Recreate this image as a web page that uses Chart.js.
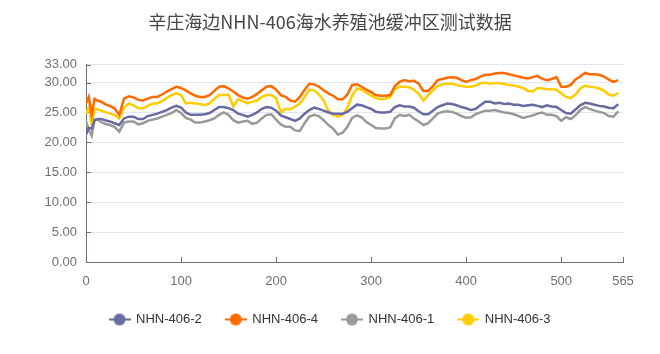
<!DOCTYPE html>
<html>
<head>
<meta charset="utf-8">
<script src="https://cdn.jsdelivr.net/npm/chart.js@4"></script>
<style>
  html, body { margin: 0; padding: 0; background: #fff; }
</style>
</head>
<body>
<canvas id="myChart" width="660" height="354"></canvas>
<script>
// sample positions (x axis index)
var xValues = [0, 3, 6, 9, 12, 16, 20,
  25, 30, 35, 40, 45, 50, 55, 60, 65, 70, 75, 80, 85, 90, 95, 100, 105, 110, 115, 120, 125, 130, 135, 140,
  145, 150, 155, 160, 165, 170, 175, 180, 185, 190, 195, 200, 205, 210, 215, 220, 225, 230, 235, 240, 245, 250, 255, 260, 265, 270, 275, 280,
  285, 290, 295, 300, 305, 310, 315, 320, 325, 330, 335, 340, 345, 350, 355, 360, 365, 370, 375, 380, 385, 390, 395, 400, 405, 410, 415, 420,
  425, 430, 435, 440, 445, 450, 455, 460, 465, 470, 475, 480, 485, 490, 495, 500, 505, 510, 515, 520, 525, 530, 535, 540, 545, 550, 555, 560];

var nhn2 = [21.3, 22.4, 22.3, 23.7, 23.9, 23.9, 23.7,
  23.5, 23.2, 22.9, 24.0, 24.3, 24.3, 23.9, 23.9, 24.4, 24.6, 24.8, 25.1, 25.4, 25.8, 26.1, 25.8, 25.0, 24.6, 24.6, 24.6, 24.7, 24.9, 25.4, 25.9,
  25.9, 25.7, 25.4, 24.8, 24.6, 24.3, 24.6, 25.0, 25.6, 25.9, 25.8, 25.3, 24.5, 24.2, 23.9, 23.6, 24.0, 24.8, 25.4, 25.8, 25.6, 25.3, 25.0, 24.8, 24.8, 24.8, 25.1, 25.7,
  26.3, 26.2, 25.9, 25.6, 25.1, 25.0, 25.0, 25.1, 25.9, 26.2, 26.0, 26.0, 25.8, 25.2, 24.7, 24.7, 25.3, 25.9, 26.2, 26.5, 26.4, 26.2, 25.9, 25.7, 25.4, 25.6, 26.2, 26.8,
  26.8, 26.5, 26.6, 26.4, 26.5, 26.3, 26.3, 26.1, 26.2, 26.3, 26.1, 25.9, 26.2, 26.0, 25.9, 25.4, 24.9, 24.8, 25.5, 26.2, 26.6, 26.5, 26.3, 26.1, 26.0, 25.8, 25.7, 26.4];

var nhn4 = [26.5, 27.6, 24.6, 27.3, 27.0, 26.8, 26.4,
  26.1, 25.7, 24.6, 27.3, 27.7, 27.5, 27.1, 27.0, 27.3, 27.6, 27.6, 28.0, 28.5, 28.9, 29.3, 29.1, 28.7, 28.2, 27.8, 27.6, 27.6, 27.9, 28.6, 29.3,
  29.4, 29.0, 28.5, 27.9, 27.5, 27.3, 27.6, 28.1, 28.7, 29.3, 29.4, 28.8, 27.9, 27.6, 27.0, 26.8, 27.6, 28.8, 29.8, 29.7, 29.3, 28.7, 28.2, 27.8, 27.2, 27.2, 28.0, 29.6,
  29.7, 29.3, 28.8, 28.4, 27.9, 27.8, 27.8, 27.9, 29.4, 30.1, 30.4, 30.2, 30.3, 29.8, 28.6, 28.6, 29.4, 30.4, 30.6, 30.8, 30.9, 30.8, 30.4, 30.1, 30.4, 30.6, 31.0, 31.3,
  31.3, 31.5, 31.6, 31.6, 31.4, 31.2, 31.0, 30.8, 30.7, 30.9, 31.1, 30.6, 30.4, 30.6, 30.9, 29.3, 29.3, 29.6, 30.5, 31.0, 31.6, 31.4, 31.4, 31.3, 31.0, 30.5, 30.1, 30.4];

var nhn1 = [23.5, 22.1, 21.1, 23.8, 23.8, 23.4, 23.1,
  22.9, 22.6, 21.8, 23.3, 23.5, 23.5, 23.0, 23.2, 23.6, 23.8, 24.0, 24.3, 24.6, 24.9, 25.4, 24.9, 24.1, 23.8, 23.3, 23.3, 23.5, 23.7, 24.0, 24.6,
  25.0, 24.6, 23.7, 23.3, 23.5, 23.6, 23.1, 23.3, 24.0, 24.6, 24.7, 23.8, 23.0, 22.6, 22.6, 22.0, 21.9, 23.2, 24.3, 24.6, 24.4, 23.7, 22.9, 22.3, 21.3, 21.6, 22.6, 24.1,
  24.5, 24.2, 23.4, 22.9, 22.4, 22.3, 22.3, 22.5, 24.0, 24.6, 24.4, 24.6, 24.0, 23.5, 22.9, 23.2, 24.0, 24.8, 25.1, 25.2, 25.1, 24.8, 24.4, 24.1, 24.2, 24.7, 25.0, 25.3,
  25.3, 25.4, 25.2, 25.0, 24.9, 24.7, 24.4, 24.1, 24.3, 24.5, 24.8, 25.0, 24.6, 24.6, 24.4, 23.6, 24.2, 23.9, 24.5, 25.4, 25.9, 25.6, 25.3, 25.1, 24.9, 24.4, 24.3, 25.2];

var nhn3 = [24.8, 25.9, 23.0, 25.6, 25.5, 25.3, 25.1,
  24.8, 24.6, 24.0, 25.8, 26.5, 26.2, 25.7, 25.7, 26.1, 26.5, 26.5, 26.9, 27.4, 27.9, 28.2, 27.9, 26.5, 26.6, 26.5, 26.4, 26.2, 26.5, 27.3, 27.9,
  27.9, 28.0, 26.0, 27.2, 26.9, 26.5, 26.8, 27.0, 27.6, 27.9, 27.9, 27.4, 25.0, 25.6, 25.5, 26.0, 26.5, 27.6, 28.8, 28.7, 28.0, 27.0, 25.3, 24.6, 24.3, 24.6, 25.8, 27.8,
  29.0, 28.8, 28.3, 27.8, 27.4, 27.2, 27.3, 27.6, 28.9, 29.3, 29.3, 29.2, 28.8, 28.1, 27.0, 27.9, 28.7, 29.4, 29.7, 29.8, 29.8, 29.6, 29.4, 29.3, 29.3, 29.5, 29.9, 30.0,
  29.8, 29.9, 29.9, 29.8, 29.6, 29.5, 29.3, 29.1, 28.6, 28.5, 29.1, 29.0, 28.9, 28.9, 28.8, 28.2, 27.6, 27.4, 28.0, 29.0, 29.5, 29.3, 29.2, 29.0, 28.6, 28.0, 27.8, 28.3];

var seriesNames = ['NHN-406-2', 'NHN-406-4', 'NHN-406-1', 'NHN-406-3'];
var seriesValues = [nhn2, nhn4, nhn1, nhn3];
var seriesColors = ['#6a6aa2', '#ff6a00', '#999999', '#ffcc00'];

var yTicks = [0, 5, 10, 15, 20, 25, 30, 33];
var xTicks = [0, 100, 200, 300, 400, 500, 565];

var axisColor = '#6e7079';

// legend icon: short line with a dot, like the original
function legendIcon(color) {
  var c = document.createElement('canvas');
  c.width = 22;
  c.height = 14;
  var g = c.getContext('2d');
  g.strokeStyle = color;
  g.lineWidth = 2;
  g.beginPath();
  g.moveTo(0, 7);
  g.lineTo(22, 7);
  g.stroke();
  g.fillStyle = color;
  g.beginPath();
  g.arc(11, 7, 6, 0, Math.PI * 2);
  g.fill();
  return c;
}

// small tick marks pointing into the plot
var innerTicks = {
  id: 'innerTicks',
  beforeDatasetsDraw: function (chart) {
    var ctx = chart.ctx, area = chart.chartArea;
    var xs = chart.scales.x, ys = chart.scales.y;
    ctx.save();
    ctx.strokeStyle = axisColor;
    ctx.lineWidth = 1;
    ctx.beginPath();
    ys.ticks.forEach(function (t) {
      var py = Math.round(ys.getPixelForValue(t.value)) + 0.5;
      ctx.moveTo(area.left, py);
      ctx.lineTo(area.left + 5, py);
    });
    xs.ticks.forEach(function (t) {
      var px = Math.round(xs.getPixelForValue(t.value)) + 0.5;
      ctx.moveTo(px, area.bottom);
      ctx.lineTo(px, area.bottom - 5);
    });
    ctx.stroke();
    ctx.restore();
  }
};

var datasets = seriesNames.map(function (name, i) {
  return {
    label: name,
    data: xValues.map(function (x, j) { return { x: x, y: seriesValues[i][j] }; }),
    borderColor: seriesColors[i],
    backgroundColor: seriesColors[i],
    borderWidth: 2.5,
    pointRadius: 0,
    pointStyle: legendIcon(seriesColors[i]),
    tension: 0
  };
});

var ctx = document.getElementById('myChart');
var chart = new Chart(ctx, {
  type: 'line',
  data: { datasets: datasets },
  plugins: [innerTicks],
  options: {
    responsive: false,
    animation: false,
    devicePixelRatio: 1,
    layout: { padding: { left: 37, right: 37, top: 0, bottom: 18 } },
    plugins: {
      title: {
        display: true,
        text: '辛庄海边NHN-406海水养殖池缓冲区测试数据',
        color: '#464646',
        font: { family: '"Noto Sans CJK SC", sans-serif', size: 18, weight: 'normal' },
        padding: { top: 11, bottom: 32 }
      },
      legend: {
        position: 'bottom',
        labels: {
          usePointStyle: true,
          pointStyleWidth: 20,
          color: '#333',
          padding: 24,
          font: { family: '"Liberation Sans", Arial, sans-serif', size: 13 }
        }
      },
      tooltip: { enabled: false }
    },
    scales: {
      x: {
        type: 'linear',
        min: 0,
        max: 565,
        afterBuildTicks: function (scale) {
          scale.ticks = xTicks.map(function (v) { return { value: v }; });
        },
        afterFit: function (scale) { scale.height = 27; },
        ticks: {
          color: axisColor,
          padding: 12,
          maxRotation: 0,
          font: { family: '"Liberation Sans", Arial, sans-serif', size: 13 },
          callback: function (v) { return v; }
        },
        grid: { color: 'rgba(0,0,0,0)', drawTicks: false },
        border: { display: true, color: axisColor, width: 1 }
      },
      y: {
        min: 0,
        max: 33,
        afterBuildTicks: function (scale) {
          scale.ticks = yTicks.map(function (v) { return { value: v }; });
        },
        afterFit: function (scale) { scale.width = 49; },
        ticks: {
          color: axisColor,
          padding: 9,
          font: { family: '"Liberation Sans", Arial, sans-serif', size: 13 },
          callback: function (v) { return Number(v).toFixed(2); }
        },
        grid: { color: '#e0e6f1', drawTicks: false },
        border: { display: true, color: axisColor, width: 1 }
      }
    }
  }
});
</script>
</body>
</html>
